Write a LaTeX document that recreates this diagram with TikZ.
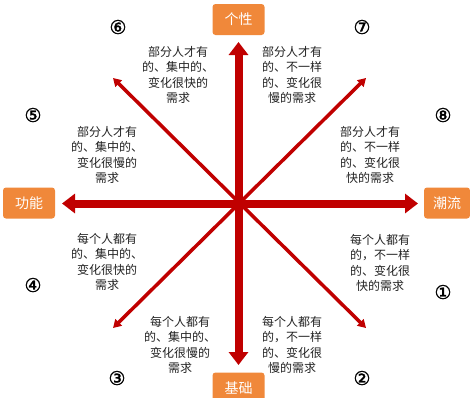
\documentclass[tikz,border=0pt]{standalone}
\usepackage{fontspec}
\setmainfont{Noto Sans CJK SC}
\newfontfamily\numfont[FakeBold=1.5]{DejaVu Sans}
\usetikzlibrary{arrows.meta}
\definecolor{axisred}{RGB}{192,0,0}
\definecolor{boxorange}{RGB}{240,136,58}
\definecolor{txtgray}{RGB}{35,35,35}
\begin{document}
\begin{tikzpicture}[x=1pt,y=-1pt,
  labelbox/.style={fill=boxorange,rounded corners=3pt,text=white,inner sep=0pt,
    minimum width=52pt,minimum height=31pt,font=\fontsize{14}{16}\selectfont},
  mainarrow/.style={draw=axisred,line width=8pt,-{Triangle[width=19pt,length=13pt]}},
  diagline/.style={draw=axisred,line width=3.5pt,{Triangle[width=9pt,length=8pt]}-{Triangle[width=9pt,length=8pt]}},
  desc/.style={align=center,inner sep=0pt,text=txtgray,font=\fontsize{12}{15.5}\selectfont},
  num/.style={inner sep=0pt,font=\numfont\fontsize{19}{19}\selectfont}]
\useasboundingbox (0,0) rectangle (470,397);
% boxes
\node[labelbox] (top) at (238.5,19.5) {个性};
\node[labelbox] (left) at (29,203) {功能};
\node[labelbox,minimum width=46pt] (right) at (447,203) {潮流};
\node[labelbox] (bottom) at (238.5,388) {基础};
% axis points
\coordinate (c) at (238.5,203.5);
\coordinate (tipT) at (238.5,42);
\coordinate (tipB) at (238.5,365);
\coordinate (tipL) at (62,203.5);
\coordinate (tipR) at (418,203.5);
\coordinate (tl) at (113,78);
\coordinate (br) at (366,328);
\coordinate (tr) at (366,78);
\coordinate (bl) at (113,328);
% diagonals
\draw[diagline] (tl) -- (br);
\draw[diagline] (tr) -- (bl);
% main arrows
\draw[mainarrow] (c) -- (tipT);
\draw[mainarrow] (c) -- (tipB);
\draw[mainarrow] (c) -- (tipL);
\draw[mainarrow] (c) -- (tipR);
% descriptions
\node[desc] (d6) at (178,75) {部分人才有\\的、集中的、\\变化很快的\\需求};
\node[desc] (d7) at (292,75) {部分人才有\\的、不一样\\的、变化很\\慢的需求};
\node[desc] (d5) at (107,155) {部分人才有\\的、集中的、\\变化很慢的\\需求};
\node[desc] (d8) at (370,155) {部分人才有\\的、不一样\\的、变化很\\快的需求};
\node[desc] (d4) at (107,262) {每个人都有\\的、集中的、\\变化很快的\\需求};
\node[desc] (d1) at (380,263) {每个人都有\\的，不一样\\的、变化很\\快的需求};
\node[desc] (d3) at (180,345) {每个人都有\\的、集中的、\\变化很慢的\\需求};
\node[desc] (d2) at (292,345) {每个人都有\\的，不一样\\的、变化很\\慢的需求};
% numbers
\node[num] (n6) at (118,27) {⑥};
\node[num] (n7) at (362,27) {⑦};
\node[num] (n5) at (33,115) {⑤};
\node[num] (n8) at (443,115) {⑧};
\node[num] (n4) at (33,285) {④};
\node[num] (n1) at (443,292) {①};
\node[num] (n3) at (117,378) {③};
\node[num] (n2) at (362,378) {②};
\end{tikzpicture}
\end{document}
